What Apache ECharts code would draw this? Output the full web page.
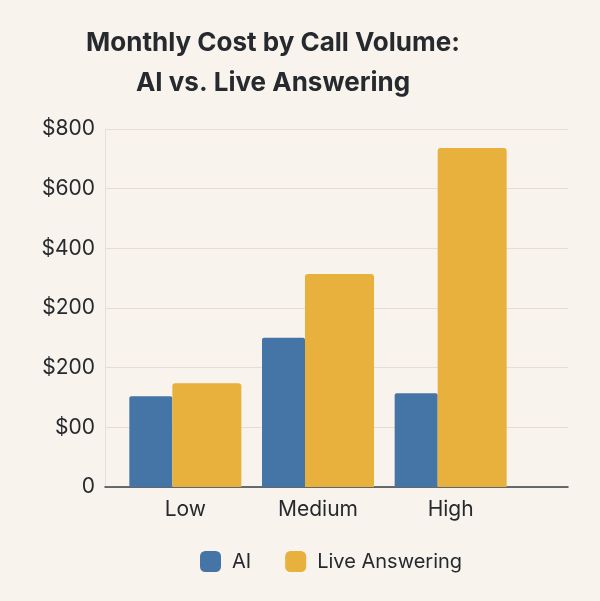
<!DOCTYPE html>
<html>
<head>
<meta charset="utf-8">
<script src="https://cdn.jsdelivr.net/npm/echarts@6/dist/echarts.min.js"></script>
<style>
  html, body { margin: 0; padding: 0; background: #f8f3ec; }
  #chart { width: 600px; height: 601px; }
</style>
</head>
<body>
<div id="chart"></div>
<script>
// data (one gridline step = 100)
const categories = ["Low", "Medium", "High"];
const aiCost = [152, 250, 157];
const liveCost = [174, 357, 568];
const tickLabels = ["0", "$00", "$200", "$200", "$400", "$600", "$800"];

const chart = echarts.init(document.getElementById("chart"));
const font = "Inter, 'Noto Sans', sans-serif";
const dark = "#262a2e";

chart.setOption({
    backgroundColor: "#f8f3ec",
    title: {
        text: "Monthly Cost by Call Volume:\nAI vs. Live Answering",
        left: 268,
        top: 18,
        textAlign: "center",
        textStyle: {
            fontFamily: font,
            fontSize: 26,
            fontWeight: 700,
            color: dark,
            lineHeight: 40
        }
    },
    legend: {
        data: ["AI", "Live Answering"],
        bottom: 24,
        left: 195,
        icon: "roundRect",
        itemWidth: 21,
        itemHeight: 21,
        itemGap: 34,
        textStyle: {
            fontFamily: font,
            fontSize: 20,
            color: dark,
            padding: [0, 0, 0, 6]
        }
    },
    grid: [
        { left: 105, right: 32, top: 129, bottom: 114 },
        { left: 119, right: 83, top: 129, bottom: 114 }
    ],
    xAxis: [
        {
            type: "category",
            gridIndex: 0,
            data: categories,
            axisLabel: { show: false },
            axisTick: { show: false },
            axisLine: { lineStyle: { color: "#3a4045", width: 1.5 } }
        },
        {
            type: "category",
            gridIndex: 1,
            data: categories,
            axisTick: { show: false },
            axisLine: { show: false },
            axisLabel: {
                fontFamily: font,
                fontSize: 21,
                color: dark,
                margin: 12
            }
        }
    ],
    yAxis: [
        {
            type: "value",
            gridIndex: 0,
            min: 0,
            max: 600,
            interval: 100,
            axisLine: { show: true, lineStyle: { color: "#e6e0d8" } },
            splitLine: { lineStyle: { color: "#e3ddd4" } },
            axisLabel: {
                fontFamily: font,
                fontSize: 21,
                color: dark,
                margin: 10,
                formatter: v => tickLabels[Math.round(v / 100)]
            }
        },
        {
            type: "value",
            gridIndex: 1,
            min: 0,
            max: 600,
            interval: 100,
            show: false,
            splitLine: { show: false }
        }
    ],
    series: [
        {
            name: "AI",
            type: "bar",
            xAxisIndex: 1,
            yAxisIndex: 1,
            data: aiCost,
            barWidth: 43,
            barGap: "0%",
            itemStyle: { color: "#4475a6", borderRadius: [2, 2, 0, 0] }
        },
        {
            name: "Live Answering",
            type: "bar",
            xAxisIndex: 1,
            yAxisIndex: 1,
            data: liveCost,
            barWidth: 69,
            barGap: "0%",
            itemStyle: { color: "#e8b03d", borderRadius: [3, 3, 0, 0] }
        }
    ]
});
</script>
</body>
</html>
